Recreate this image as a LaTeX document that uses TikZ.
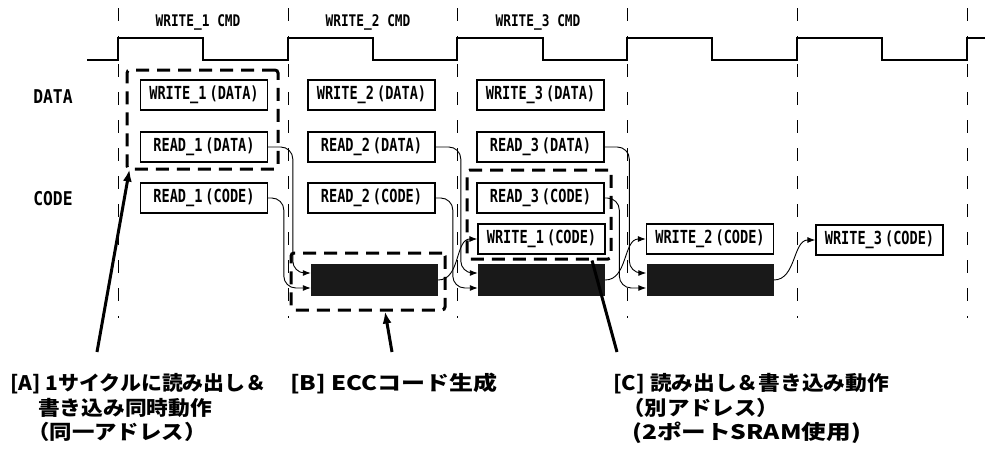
\documentclass[tikz,border=0pt]{standalone}
\usepackage{fontspec}
\usetikzlibrary{arrows.meta}
\newfontfamily\bfnt[FakeStretch=0.755]{DejaVu Sans Mono}
\newfontfamily\lfnt[FakeStretch=0.86]{DejaVu Sans Mono}
\newfontfamily\tfnt[FakeStretch=0.8]{DejaVu Sans Mono}
\newfontfamily\cjk[FakeStretch=1.12]{Noto Sans CJK JP}
\begin{document}
\begin{tikzpicture}[x=1pt,y=-1pt,
  box/.style={draw, line width=1.3pt, minimum width=127pt, minimum height=30pt, inner sep=0pt, font=\bfnt\bfseries\fontsize{18}{18}\selectfont},
  blk/.style={fill=black!90, minimum width=127pt, minimum height=32pt, inner sep=0pt},
  hl/.style={draw, line width=3pt, dash pattern=on 13pt off 8pt, rounded corners=3pt, inner sep=0pt},
  vline/.style={line width=1pt, dash pattern=on 13pt off 15pt},
  clk/.style={line width=1.5pt},
  flow/.style={line width=0.9pt, rounded corners=12pt, -{Latex[length=8pt,width=6pt]}},
  callout/.style={line width=3pt},
  ctext/.style={font=\cjk\bfseries\fontsize{20}{20}\selectfont, anchor=base west, inner sep=0pt},
  lbl/.style={font=\lfnt\bfseries\fontsize{19}{19}\selectfont, inner sep=0pt},
  cmd/.style={font=\tfnt\bfseries\fontsize{16}{16}\selectfont, inner sep=0pt}
]
\useasboundingbox (0,0) rectangle (985,450);
% vertical dashed lines
\foreach \x in {118,288,457,627,797,967} \draw[vline] (\x,8) -- (\x,318);
% clock
\draw[clk] (87,60) -- (118,60) -- (118,38) -- (203,38) -- (203,60) -- (288,60) -- (288,38) -- (373,38) -- (373,60) -- (457,60) -- (457,38) -- (543,38) -- (543,60) -- (627,60) -- (627,38) -- (712,38) -- (712,60) -- (797,60) -- (797,38) -- (882,38) -- (882,60) -- (967,60) -- (967,38) -- (985,38);
% command labels
\node[cmd] (c1) at (198,22) {WRITE\_1 CMD};
\node[cmd] (c2) at (368,22) {WRITE\_2 CMD};
\node[cmd] (c3) at (538,22) {WRITE\_3 CMD};
% side labels
\node[lbl] (ldata) at (53,97) {DATA};
\node[lbl] (lcode) at (53,199) {CODE};
% boxes
\node[box] (wd1) at (204,95) {WRITE\_1\,(DATA)};
\node[box] (rd1) at (204,147) {READ\_1\,(DATA)};
\node[box] (rc1) at (204,198) {READ\_1\,(CODE)};
\node[box] (wd2) at (371.5,95) {WRITE\_2\,(DATA)};
\node[box] (rd2) at (371.5,147) {READ\_2\,(DATA)};
\node[box] (rc2) at (371.5,198) {READ\_2\,(CODE)};
\node[box] (wd3) at (540.5,95) {WRITE\_3\,(DATA)};
\node[box] (rd3) at (540.5,147) {READ\_3\,(DATA)};
\node[box] (rc3) at (540.5,198) {READ\_3\,(CODE)};
\node[box] (wc1) at (541.5,239) {WRITE\_1\,(CODE)};
\node[box] (wc2) at (710,239) {WRITE\_2\,(CODE)};
\node[box] (wc3) at (879.5,240) {WRITE\_3\,(CODE)};
\node[blk] (bk1) at (374.5,280) {};
\node[blk] (bk2) at (541.5,280) {};
\node[blk] (bk3) at (710,280) {};
% highlight boxes
\node[hl, minimum width=151pt, minimum height=99pt] (A) at (202.5,119.5) {};
\node[hl, minimum width=154pt, minimum height=57pt] (B) at (368,281.5) {};
\node[hl, minimum width=144pt, minimum height=89pt] (C) at (539,214.5) {};
% flows
\draw[flow] (rd1.east) -| ([xshift=-18pt,yshift=7pt]bk1.west) -- ([yshift=7pt]bk1.west);
\draw[flow] (rc1.east) -| ([xshift=-27pt,yshift=-8pt]bk1.west) -- ([yshift=-8pt]bk1.west);
\draw[flow] (rd2.east) -| ([xshift=-17pt,yshift=7pt]bk2.west) -- ([yshift=7pt]bk2.west);
\draw[flow] (rc2.east) -| ([xshift=-25pt,yshift=-8pt]bk2.west) -- ([yshift=-8pt]bk2.west);
\draw[flow] (rd3.east) -| ([xshift=-17pt,yshift=7pt]bk3.west) -- ([yshift=7pt]bk3.west);
\draw[flow] (rc3.east) -| ([xshift=-27pt,yshift=-8pt]bk3.west) -- ([yshift=-8pt]bk3.west);
\draw[flow] (bk1.east) to[out=0,in=180] (wc1.west);
\draw[flow] (bk2.east) to[out=0,in=180] (wc2.west);
\draw[flow] (bk3.east) to[out=0,in=180] (wc3.west);
% callouts
\coordinate (Atail) at (97,352);
\coordinate (Btail) at (392,352);
\coordinate (Ctail) at (617,352);
\draw[callout, -{Latex[length=12pt,width=9pt]}] (Atail) -- ([xshift=4pt,yshift=1pt]A.south west);
\draw[callout, -{Latex[length=12pt,width=9pt]}] (Btail) -- ([xshift=17pt]B.south);
\draw[callout] (Ctail) -- ([xshift=53pt]C.south);
\node[ctext] (ta1) at (10,390) {\scalebox{0.935}[1]{[A] 1サイクルに読み出し＆}};
\node[ctext] (ta2) at (38,415) {\scalebox{0.97}[1]{書き込み同時動作}};
\node[ctext] (ta3) at (27,439) {（同一アドレス）};
\node[ctext] (tb1) at (290,390) {\scalebox{1.07}[1]{[B] ECCコード生成}};
\node[ctext] (tc1) at (613,390) {\scalebox{0.97}[1]{[C] 読み出し＆書き込み動作}};
\node[ctext] (tc2) at (622,415) {（別アドレス）};
\node[ctext] (tc3) at (632,439) {\scalebox{1.1}[1]{(2ポートSRAM使用)}};
\end{tikzpicture}
\end{document}
